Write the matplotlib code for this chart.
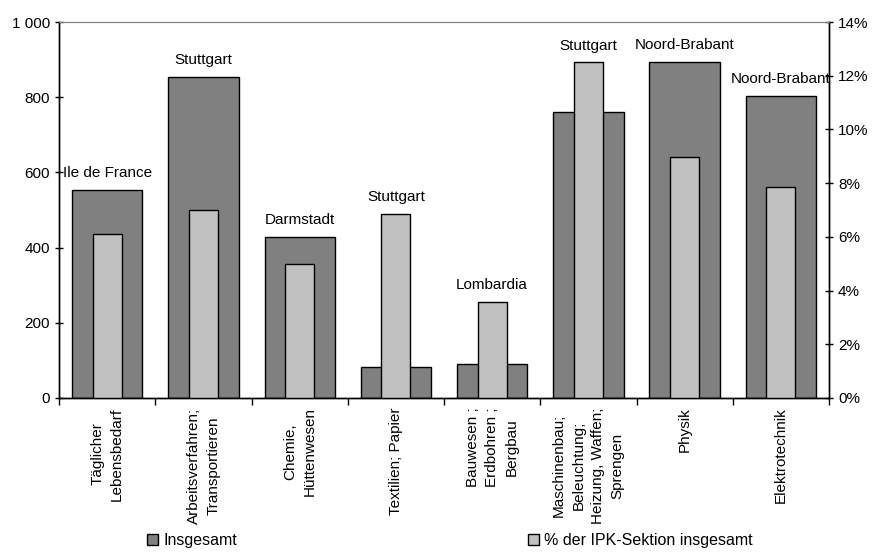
import matplotlib
matplotlib.use("Agg")
import matplotlib.pyplot as plt
from matplotlib.patches import Patch
from matplotlib.ticker import FuncFormatter, MultipleLocator
import numpy as np

categories = [
    "Täglicher\nLebensbedarf",
    "Arbeitsverfahren;\nTransportieren",
    "Chemie,\nHüttenwesen",
    "Textilien; Papier",
    "Bauwesen ;\nErdbohren ;\nBergbau",
    "Maschinenbau;\nBeleuchtung;\nHeizung, Waffen;\nSprengen",
    "Physik",
    "Elektrotechnik",
]
insgesamt = [554, 854, 428, 82, 90, 761, 894, 803]
anteil_pct = [6.1, 7.0, 5.0, 6.85, 3.58, 12.5, 8.98, 7.87]
regionen = ["Ile de France", "Stuttgart", "Darmstadt", "Stuttgart",
            "Lombardia", "Stuttgart", "Noord-Brabant", "Noord-Brabant"]

DARK = "#808080"
LIGHT = "#c0c0c0"
FONT = ["Liberation Sans", "DejaVu Sans"]

plt.rcParams["font.family"] = FONT
plt.rcParams["font.size"] = 10

fig = plt.figure(figsize=(8.73, 5.52), dpi=100)
ax = fig.add_axes([0.0676, 0.279, 0.882, 0.681])
ax2 = ax.twinx()

x = np.arange(len(categories))
ax.bar(x, insgesamt, width=0.73, color=DARK, edgecolor="black", linewidth=1.0, zorder=2)
ax2.bar(x, anteil_pct, width=0.30, color=LIGHT, edgecolor="black", linewidth=1.0, zorder=3)

ax.set_xlim(-0.5, len(categories) - 0.5)
ax.set_ylim(0, 1000)
ax2.set_ylim(0, 14)
ax.yaxis.set_major_locator(MultipleLocator(200))
ax2.yaxis.set_major_locator(MultipleLocator(2))
ax.yaxis.set_major_formatter(FuncFormatter(lambda v, p: f"{int(v):,}".replace(",", " ")))
ax2.yaxis.set_major_formatter(FuncFormatter(lambda v, p: f"{int(v)}%"))

# ticks at category boundaries, labels at centres
ax.set_xticks(np.arange(len(categories) + 1) - 0.5)
ax.set_xticklabels([])
ax.tick_params(axis="x", direction="out", length=5, width=1)
for i, lab in enumerate(categories):
    ax.text(i, -0.025, lab, transform=ax.get_xaxis_transform(), rotation=90,
            ha="center", va="top", multialignment="center", fontsize=11,
            linespacing=1.5)

for a in (ax, ax2):
    a.tick_params(axis="y", direction="inout", length=6, width=1, labelsize=11)
    for s in ("left", "right", "bottom"):
        a.spines[s].set_linewidth(1.0)
    a.spines["top"].set_color("#808080")

# region labels above the taller bar
for i, reg in enumerate(regionen):
    top = max(insgesamt[i] / 1000, anteil_pct[i] / 14) * 1000
    ax.annotate(reg, (i, top), xytext=(0, 7), textcoords="offset points",
                ha="center", va="bottom", fontsize=11, zorder=5)

h1 = Patch(facecolor=DARK, edgecolor="black")
h2 = Patch(facecolor=LIGHT, edgecolor="black")
fig.legend([h1], ["Insgesamt"], loc="center left", bbox_to_anchor=(0.152, 0.02),
           frameon=False, handlelength=0.7, handleheight=0.7, handletextpad=0.3,
           prop={"size": 11.5})
fig.legend([h2], ["% der IPK-Sektion insgesamt"], loc="center left",
           bbox_to_anchor=(0.588, 0.02), frameon=False, handlelength=0.7,
           handleheight=0.7, handletextpad=0.3, prop={"size": 11.5})

fig.savefig("out.png", dpi=100)
